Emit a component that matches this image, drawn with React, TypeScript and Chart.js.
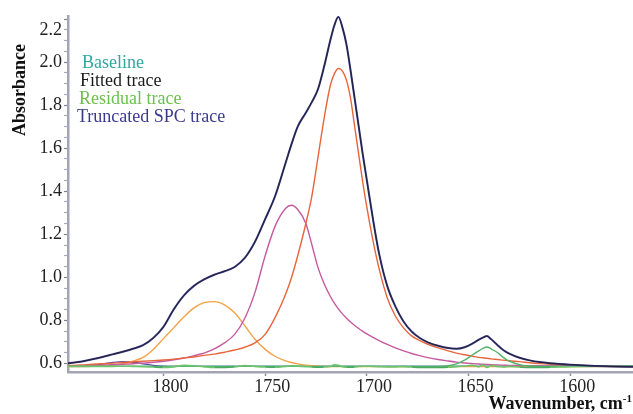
import React, { useEffect, useRef } from "react";
import { Chart, registerables } from "chart.js";

Chart.register(...registerables);

// Wavenumber grid (cm-1) shared by the sampled traces, high to low.
const WAVENUMBERS = [
  1847, 1840, 1835, 1830, 1825, 1820, 1815, 1810, 1805, 1800,
  1795, 1790, 1785, 1780, 1775, 1770, 1765, 1760, 1755, 1750,
  1745, 1740, 1737, 1734, 1730, 1727, 1724, 1721, 1718, 1716,
  1714, 1712, 1710, 1708, 1706, 1704, 1702, 1700, 1697, 1694,
  1690, 1686, 1682, 1678, 1674, 1670, 1665, 1660, 1656, 1652,
  1648, 1645, 1643, 1641, 1639, 1636, 1633, 1630, 1625, 1620,
  1615, 1610, 1600, 1590, 1580, 1569,
];

// Measured (truncated) SPC spectrum.
const TRUNCATED_SPC = [
  0.600, 0.609, 0.619, 0.630, 0.642, 0.654, 0.668, 0.685, 0.718, 0.770,
  0.850, 0.915, 0.960, 0.990, 1.012, 1.028, 1.048, 1.090, 1.165, 1.270,
  1.380, 1.530, 1.620, 1.700, 1.765, 1.815, 1.875, 1.980, 2.100, 2.170,
  2.210, 2.160, 2.080, 1.960, 1.830, 1.700, 1.570, 1.450, 1.270, 1.110,
  0.960, 0.865, 0.795, 0.748, 0.718, 0.698, 0.682, 0.671, 0.668, 0.675,
  0.693, 0.710, 0.720, 0.727, 0.713, 0.687, 0.662, 0.645, 0.626, 0.614,
  0.606, 0.601, 0.594, 0.589, 0.586, 0.584,
];

// Sum of the fitted bands plus baseline.
const FITTED = [
  0.600, 0.609, 0.619, 0.630, 0.642, 0.654, 0.668, 0.685, 0.718, 0.770,
  0.850, 0.915, 0.960, 0.990, 1.012, 1.028, 1.048, 1.090, 1.165, 1.270,
  1.380, 1.530, 1.620, 1.700, 1.765, 1.815, 1.875, 1.980, 2.100, 2.170,
  2.208, 2.160, 2.080, 1.960, 1.830, 1.700, 1.570, 1.450, 1.270, 1.110,
  0.960, 0.865, 0.795, 0.748, 0.718, 0.698, 0.682, 0.671, 0.668, 0.675,
  0.693, 0.710, 0.720, 0.726, 0.713, 0.687, 0.662, 0.645, 0.626, 0.614,
  0.606, 0.601, 0.594, 0.589, 0.586, 0.584,
];

// Residual (measured - fitted), shown offset onto the baseline.
const RESIDUAL = [
  0.586, 0.586, 0.586, 0.586, 0.586, 0.587, 0.586, 0.585, 0.583, 0.581,
  0.584, 0.591, 0.589, 0.584, 0.581, 0.581, 0.583, 0.590, 0.586, 0.583,
  0.582, 0.586, 0.589, 0.587, 0.585, 0.583, 0.582, 0.583, 0.586, 0.593,
  0.591, 0.585, 0.582, 0.582, 0.583, 0.586, 0.587, 0.587, 0.586, 0.585,
  0.584, 0.584, 0.585, 0.583, 0.581, 0.581, 0.581, 0.582, 0.585, 0.588,
  0.591, 0.584, 0.593, 0.581, 0.590, 0.586, 0.584, 0.586, 0.583, 0.581,
  0.581, 0.582, 0.585, 0.586, 0.587, 0.588,
];

// Individual fitted bands.
const BAND_1820 = [
  0.586, 0.587, 0.590, 0.597, 0.604, 0.608, 0.605, 0.598, 0.591, 0.587,
  0.586, 0.586, 0.586, 0.586, 0.586, 0.586, 0.586, 0.586, 0.586, 0.586,
  0.586, 0.586, 0.586, 0.586, 0.586, 0.586, 0.586, 0.586, 0.586, 0.586,
  0.586, 0.586, 0.586, 0.586, 0.586, 0.586, 0.586, 0.586, 0.586, 0.586,
  0.586, 0.586, 0.586, 0.586, 0.586, 0.586, 0.586, 0.586, 0.586, 0.586,
  0.586, 0.586, 0.586, 0.586, 0.586, 0.586, 0.586, 0.586, 0.586, 0.586,
  0.586, 0.586, 0.586, 0.586, 0.586, 0.586,
];

const BAND_1777 = [
  0.585, 0.585, 0.586, 0.588, 0.592, 0.598, 0.610, 0.628, 0.665, 0.715,
  0.765, 0.815, 0.858, 0.882, 0.887, 0.872, 0.835, 0.775, 0.712, 0.665,
  0.632, 0.612, 0.604, 0.598, 0.592, 0.589, 0.587, 0.586, 0.585, 0.585,
  0.585, 0.585, 0.585, 0.585, 0.585, 0.585, 0.585, 0.585, 0.585, 0.585,
  0.585, 0.585, 0.585, 0.585, 0.585, 0.585, 0.585, 0.585, 0.585, 0.585,
  0.585, 0.585, 0.585, 0.585, 0.585, 0.585, 0.585, 0.585, 0.585, 0.585,
  0.585, 0.585, 0.585, 0.585, 0.585, 0.585,
];

const BAND_1737 = [
  0.586, 0.588, 0.590, 0.592, 0.594, 0.596, 0.598, 0.601, 0.605, 0.610,
  0.617, 0.625, 0.636, 0.648, 0.667, 0.695, 0.735, 0.810, 0.930, 1.100,
  1.240, 1.320, 1.335, 1.315, 1.250, 1.150, 1.045, 0.970, 0.912, 0.880,
  0.853, 0.830, 0.810, 0.792, 0.776, 0.762, 0.749, 0.737, 0.721, 0.706,
  0.688, 0.672, 0.658, 0.646, 0.636, 0.627, 0.618, 0.611, 0.606, 0.602,
  0.599, 0.597, 0.596, 0.595, 0.594, 0.593, 0.592, 0.591, 0.590, 0.589,
  0.589, 0.588, 0.588, 0.587, 0.587, 0.586,
];

const BAND_1714 = [
  0.590, 0.593, 0.596, 0.598, 0.601, 0.604, 0.607, 0.610, 0.613, 0.616,
  0.620, 0.625, 0.630, 0.637, 0.643, 0.652, 0.662, 0.675, 0.695, 0.735,
  0.815, 0.920, 1.000, 1.100, 1.250, 1.380, 1.560, 1.740, 1.890, 1.945,
  1.970, 1.958, 1.915, 1.830, 1.700, 1.570, 1.440, 1.325, 1.170, 1.040,
  0.905, 0.820, 0.765, 0.728, 0.706, 0.689, 0.672, 0.658, 0.648, 0.640,
  0.633, 0.628, 0.626, 0.624, 0.621, 0.618, 0.615, 0.612, 0.608, 0.603,
  0.599, 0.596, 0.592, 0.589, 0.587, 0.585,
];

const BAND_1641 = [
  0.586, 0.586, 0.586, 0.586, 0.586, 0.586, 0.586, 0.586, 0.586, 0.586,
  0.586, 0.586, 0.586, 0.586, 0.586, 0.586, 0.586, 0.586, 0.586, 0.586,
  0.586, 0.586, 0.586, 0.586, 0.586, 0.586, 0.586, 0.586, 0.586, 0.586,
  0.586, 0.586, 0.586, 0.586, 0.586, 0.586, 0.586, 0.586, 0.586, 0.586,
  0.586, 0.586, 0.586, 0.586, 0.586, 0.586, 0.586, 0.589, 0.598, 0.615,
  0.640, 0.658, 0.670, 0.676, 0.668, 0.652, 0.628, 0.610, 0.594, 0.588,
  0.586, 0.586, 0.586, 0.586, 0.586, 0.586,
];

// Linear baseline end points.
const BASELINE_WN = [1847, 1569];
const BASELINE_ABS = [0.586, 0.586];

const X_TICKS = [1800, 1750, 1700, 1650, 1600];
const Y_TICKS = [0.6, 0.8, 1.0, 1.2, 1.4, 1.6, 1.8, 2.0, 2.2];

const LEGEND_LABELS = ["Baseline", "Fitted trace", "Residual trace", "Truncated SPC trace"];
const LEGEND_COLORS = ["#2fa8a0", "#1b1b1b", "#6cc04b", "#3b3b8e"];

const X_MIN = 1569.2;
const X_MAX = 1846.9;
const Y_MIN = 0.56;
const Y_MAX = 2.214;

const SERIF = '"Liberation Serif", "Times New Roman", serif';

const toPoints = (xs: number[], ys: number[]) => xs.map((x, i) => ({ x, y: ys[i] }));

// Minor y ticks: four intervals between each labelled value.
const yTickValues: number[] = [];
Y_TICKS.forEach((v, i) => {
  yTickValues.push(v);
  if (i < Y_TICKS.length - 1) {
    const step = (Y_TICKS[i + 1] - v) / 4;
    for (let k = 1; k < 4; k++) yTickValues.push(v + step * k);
  }
});
const isLabelled = (v: number) => Y_TICKS.some((t) => Math.abs(t - v) < 1e-6);

const textPlugin = {
  id: "spectrumText",
  afterDraw(chart: any) {
    const ctx: CanvasRenderingContext2D = chart.ctx;
    ctx.save();

    // legend: coloured words only
    const legendX = [82, 80, 79, 77];
    ctx.font = `18px ${SERIF}`;
    ctx.textAlign = "left";
    ctx.textBaseline = "alphabetic";
    LEGEND_LABELS.forEach((label, i) => {
      ctx.fillStyle = LEGEND_COLORS[i];
      ctx.fillText(label, legendX[i], 68 + i * 18);
    });

    // y axis title
    ctx.save();
    ctx.font = `bold 18px ${SERIF}`;
    ctx.fillStyle = "#111";
    ctx.translate(25, 90);
    ctx.rotate(-Math.PI / 2);
    ctx.textAlign = "center";
    ctx.fillText("Absorbance", 0, 0);
    ctx.restore();

    // x axis title with superscript
    const main = "Wavenumber, cm";
    const sup = "-1";
    ctx.fillStyle = "#111";
    ctx.textAlign = "left";
    ctx.font = `bold 18px ${SERIF}`;
    const wMain = ctx.measureText(main).width;
    ctx.font = `bold 11px ${SERIF}`;
    const wSup = ctx.measureText(sup).width;
    const start = 632 - wMain - wSup;
    ctx.font = `bold 18px ${SERIF}`;
    ctx.fillText(main, start, 409);
    ctx.font = `bold 11px ${SERIF}`;
    ctx.fillText(sup, start + wMain, 402);

    ctx.restore();
  },
};

const line = (label: string, xs: number[], ys: number[], color: string, width: number, extra: any = {}) => ({
  label,
  data: toPoints(xs, ys),
  borderColor: color,
  borderWidth: width,
  pointRadius: 0,
  fill: false,
  cubicInterpolationMode: "monotone" as const,
  ...extra,
});

export default function App() {
  const canvasRef = useRef<HTMLCanvasElement>(null);

  useEffect(() => {
    const canvas = canvasRef.current;
    if (!canvas) return;

    const chart = new Chart(canvas, {
      type: "line",
      data: {
        datasets: [
          line("Fitted trace", WAVENUMBERS, FITTED, "#1e1e2a", 0.9),
          line("Truncated SPC trace", WAVENUMBERS, TRUNCATED_SPC, "#3a3a88", 2),
          line("Residual trace", WAVENUMBERS, RESIDUAL, "#6cc46e", 1.6, {
            segment: {
              borderColor: (c: any) =>
                c.p0.parsed.y < 0.5835 && c.p1.parsed.y < 0.5835 ? "#4aaa62" : undefined,
            },
          }),
          line("Band 1641", WAVENUMBERS, BAND_1641, "#52b46a", 1.4),
          line("Band 1714", WAVENUMBERS, BAND_1714, "#e8653c", 1.4),
          line("Band 1737", WAVENUMBERS, BAND_1737, "#c65a9f", 1.4),
          line("Band 1777", WAVENUMBERS, BAND_1777, "#f4a247", 1.4),
          line("Band 1820", WAVENUMBERS, BAND_1820, "#5a4ca8", 1.4),
          line("Baseline", BASELINE_WN, BASELINE_ABS, "#3cb2a8", 1.4),
        ],
      },
      options: {
        animation: false,
        responsive: false,
        events: [],
        layout: { padding: { top: 16, left: 0, right: 0, bottom: 0 } },
        plugins: {
          legend: { display: false },
          tooltip: { enabled: false },
        },
        scales: {
          x: {
            type: "linear",
            reverse: true,
            min: X_MIN,
            max: X_MAX,
            afterBuildTicks: (s: any) => {
              s.ticks = X_TICKS.map((v) => ({ value: v }));
            },
            afterFit: (s: any) => {
              s.height = 42;
              s.paddingLeft = 0;
              s.paddingRight = 0;
            },
            ticks: {
              autoSkip: false,
              maxRotation: 0,
              padding: 0,
              labelOffset: 7,
              color: "#222",
              font: { family: SERIF, size: 18 },
              callback: (v: any) => String(v),
            },
            grid: {
              drawOnChartArea: false,
              tickLength: 4,
              tickColor: "#8c8c9c",
              tickWidth: 1.5,
            },
            border: { color: "#a4a4b4", width: 2.5 },
          },
          y: {
            type: "linear",
            min: Y_MIN,
            max: Y_MAX,
            afterBuildTicks: (s: any) => {
              s.ticks = yTickValues.map((v) => ({ value: v }));
            },
            afterFit: (s: any) => {
              s.width = 68;
              s.paddingTop = 0;
              s.paddingBottom = 0;
            },
            ticks: {
              autoSkip: false,
              padding: 2,
              color: "#222",
              font: { family: SERIF, size: 18 },
              callback: (v: any) => {
                const n = Number(v);
                if (!isLabelled(n)) return "";
                const s = n.toFixed(1);
                // the top label sits half a line lower, clear of the frame edge
                return Math.abs(n - Y_TICKS[Y_TICKS.length - 1]) < 1e-6 ? ["", s] : s;
              },
            },
            grid: {
              drawOnChartArea: false,
              tickLength: 4,
              tickColor: (c: any) => (c.tick && isLabelled(c.tick.value) ? "#80808f" : "#a8a8b6"),
              tickWidth: 1.2,
            },
            border: { color: "#a4a4b4", width: 2.5 },
          },
        },
      },
      plugins: [textPlugin],
    });

    return () => chart.destroy();
  }, []);

  return (
    <div style={{ position: "absolute", left: 0, top: 0, width: 633, height: 414, background: "#fff" }}>
      <canvas ref={canvasRef} width={633} height={414} style={{ display: "block", width: 633, height: 414 }} />
    </div>
  );
}
